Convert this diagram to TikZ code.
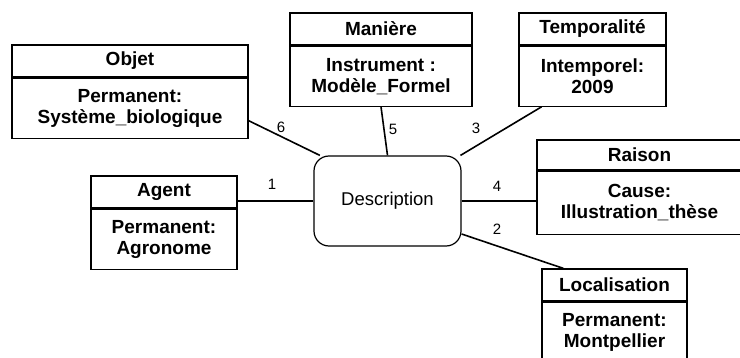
\documentclass[tikz,border=0pt]{standalone}
\usepackage{fontspec}
\setmainfont{Liberation Sans}
\usetikzlibrary{positioning}

\begin{document}
\begin{tikzpicture}[x=1pt, y=-1pt,
    head/.style={rectangle, draw=black, line width=1.2pt, minimum width=#1, minimum height=32pt, inner sep=0pt, font=\fontsize{19}{21}\selectfont\bfseries},
    body/.style={rectangle, draw=black, line width=1.2pt, minimum width=#1, minimum height=60pt, inner sep=0pt, align=center, font=\fontsize{19}{21}\selectfont\bfseries},
    event/.style={rectangle, draw=black, line width=1.2pt, rounded corners=15pt, minimum width=147pt, minimum height=90pt, font=\fontsize{18.5}{21}\selectfont},
    link/.style={draw=black, line width=1.6pt},
    num/.style={font=\fontsize{15}{17}\selectfont, inner sep=0pt}
]
\useasboundingbox (0,0) rectangle (740,358);
\clip (0,0) rectangle (740,358);

% Central event
\node[event] (desc) at (387.5,201) {Description};

% Role boxes
\node[head=236pt] (objh) at (130,61) {Objet};
\node[body=236pt, below=0pt of objh] (objb) {Permanent:\\Système\_biologique};

\node[head=182pt] (manh) at (381,29) {Manière};
\node[body=182pt, below=0pt of manh] (manb) {Instrument :\\Modèle\_Formel};

\node[head=147pt] (tmph) at (592.5,29) {Temporalité};
\node[body=147pt, below=0pt of tmph] (tmpb) {Intemporel:\\2009};

\node[head=146pt] (agh) at (164,192) {Agent};
\node[body=146pt, below=0pt of agh] (agb) {Permanent:\\Agronome};

\node[head=205pt, minimum height=30pt] (raih) at (639.5,155) {Raison};
\node[body=205pt, minimum height=63pt, below=0pt of raih] (raib) {Cause:\\Illustration\_thèse};

\node[head=145pt] (loch) at (614.5,285) {Localisation};
\node[body=145pt, below=0pt of loch] (locb) {Permanent:\\Montpellier};

% Links
\draw[link] (desc.west) -- (desc.west -| agh.east);
\draw[link] (desc.-24.5) -- (loch.162);
\draw[link] (desc.32.5) -- (tmpb.211);
\draw[link] (desc.east) -- (desc.east -| raib.west);
\draw[link] (desc.north) -- (manb.south);
\draw[link] (desc.146.7) -- (objb.-6);

% Link numbers
\node[num] (n1) at (272,184) {1};
\node[num] (n2) at (497,229) {2};
\node[num] (n3) at (476,128) {3};
\node[num] (n4) at (497,186) {4};
\node[num] (n5) at (393,129) {5};
\node[num] (n6) at (281,127) {6};
\end{tikzpicture}
\end{document}
